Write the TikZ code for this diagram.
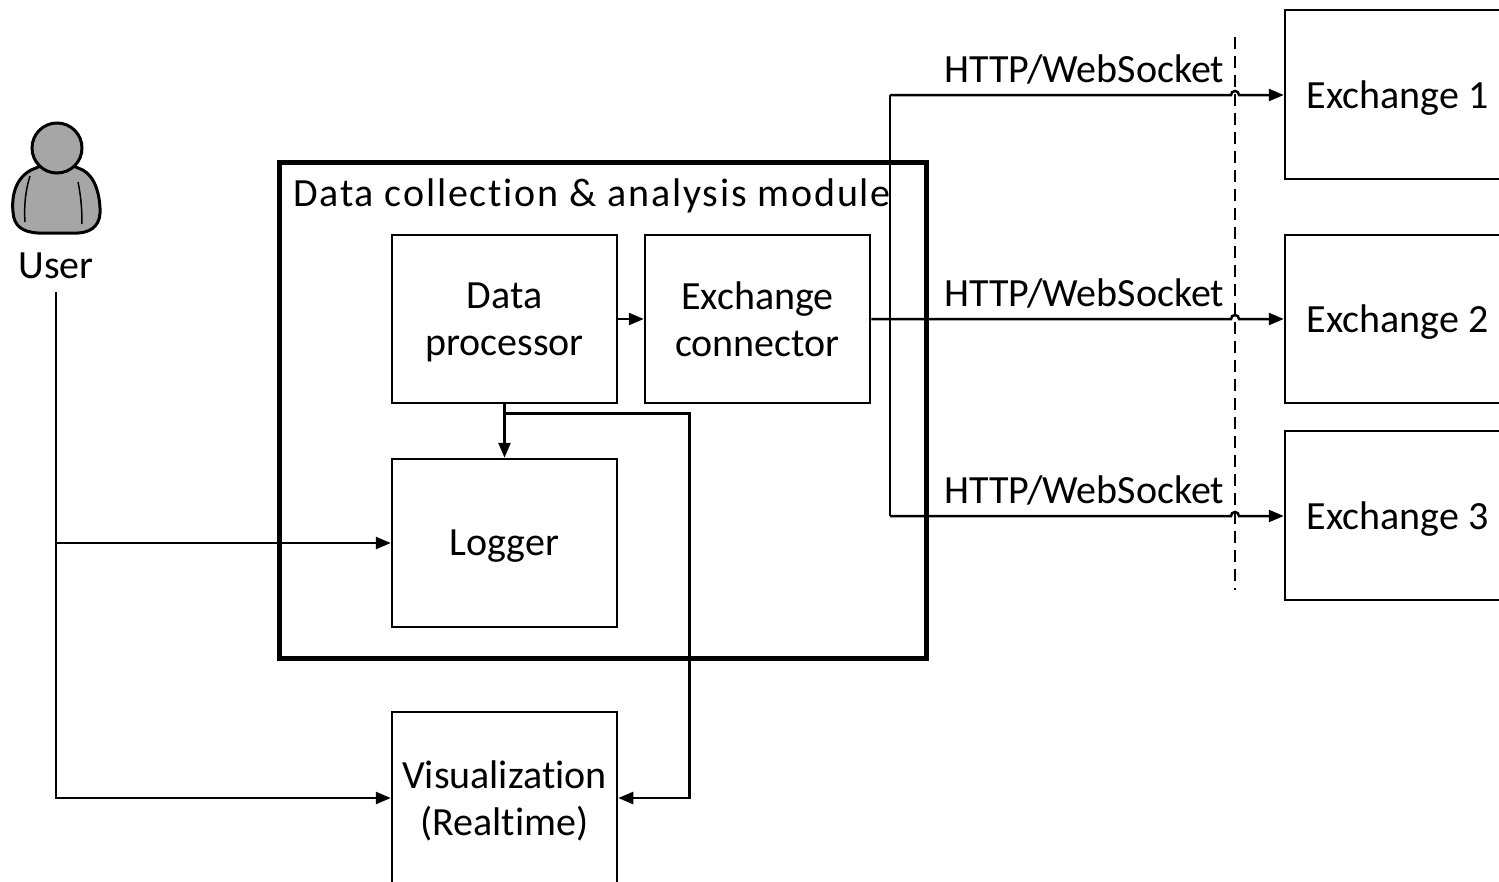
\documentclass[tikz,border=0pt]{standalone}
\usepackage{fontspec}
\setmainfont[Ligatures=NoCommon]{Carlito}
\newfontfamily\widefont[LetterSpace=4.5,Ligatures=NoCommon]{Carlito}
\usetikzlibrary{arrows.meta}
\begin{document}
\begin{tikzpicture}[x=1pt,y=-1pt,
  every node/.style={font=\fontsize{40}{47}\selectfont},
  box/.style={draw,line width=2.5pt,minimum width=225pt,minimum height=168pt,inner sep=0pt,align=center,text depth=0pt},
  ln/.style={line width=2.5pt},
  arr/.style={line width=2.5pt,-{Triangle[length=15pt,width=12pt]}},
  lbl/.style={anchor=base west,inner sep=0pt}]
\useasboundingbox (0,0) rectangle (1499,881);
\clip (0,0) rectangle (1499,881);
% module
\draw[line width=5pt] (279,162) rectangle (926,658);
\node[lbl,font=\widefont\fontsize{40}{47}\selectfont] (title) at (293,206) {Data collection \& analysis module};
% boxes
\node[box] (dp) at (504.5,319) {Data\\processor};
\node[box] (ec) at (757.5,319) {Exchange\\connector};
\node[box] (lg) at (504.5,543) {Logger};
\node[box,minimum height=172pt] (viz) at (504.5,798) {Visualization\\(Realtime)};
\node[box,minimum height=169pt] (ex1) at (1397.5,94.5) {Exchange 1};
\node[box] (ex2) at (1397.5,319) {Exchange 2};
\node[box,minimum height=169pt] (ex3) at (1397.5,515.5) {Exchange 3};
% dashed line
\coordinate (dt) at (1235,37);
\coordinate (db) at (1235,590);
\draw[line width=2.5pt,dash pattern=on 12pt off 7pt] (dt) -- (db);
% user icon
\begin{scope}[line width=3pt,fill=black!35]
\filldraw (36,168) .. controls (18,174) and (11,192) .. (13,212)
  .. controls (14,226) and (22,232) .. (38,233) -- (78,233)
  .. controls (95,232) and (101,222) .. (100,208)
  .. controls (99,188) and (92,172) .. (78,168)
  .. controls (68,162) and (46,162) .. (36,168) -- cycle;
\draw[line width=1.5pt] (30,176) .. controls (25,192) and (24,208) .. (25,222);
\draw[line width=1.5pt] (78,182) .. controls (81,196) and (82,210) .. (82,224);
\filldraw (57,148) circle[radius=25pt];
\end{scope}
\node[inner sep=0pt] (user) at (56,266) {User};
% user connectors
\coordinate (us) at (56,292);
\draw[arr] (us) |- (viz.west);
\draw[arr] (us |- lg.west) -- (lg.west);
% internal
\draw[arr] (dp.east) -- (ec.west);
\draw[arr] (dp.south) -- (lg.north);
\draw[arr] ([yshift=-9pt]dp.south) -- ++(185,0) |- (viz.east);
% to exchanges
\coordinate (bt) at (890,95);
\coordinate (bb) at (890,516);
\draw[ln] (bt) -- (bb);
\draw[arr] (bt) -- ([xshift=-4pt]bt -| dt) arc[start angle=180,end angle=0,radius=4pt] -- (bt -| ex1.west);
\draw[arr] (ec.east) -- ([xshift=-4pt]ec.east -| dt) arc[start angle=180,end angle=0,radius=4pt] -- (ex2.west);
\draw[arr] (bb) -- ([xshift=-4pt]bb -| dt) arc[start angle=180,end angle=0,radius=4pt] -- (bb -| ex3.west);
\node[lbl] (h1) at (944,82) {HTTP/WebSocket};
\node[lbl] (h2) at (944,306) {HTTP/WebSocket};
\node[lbl] (h3) at (944,503) {HTTP/WebSocket};
\end{tikzpicture}
\end{document}
